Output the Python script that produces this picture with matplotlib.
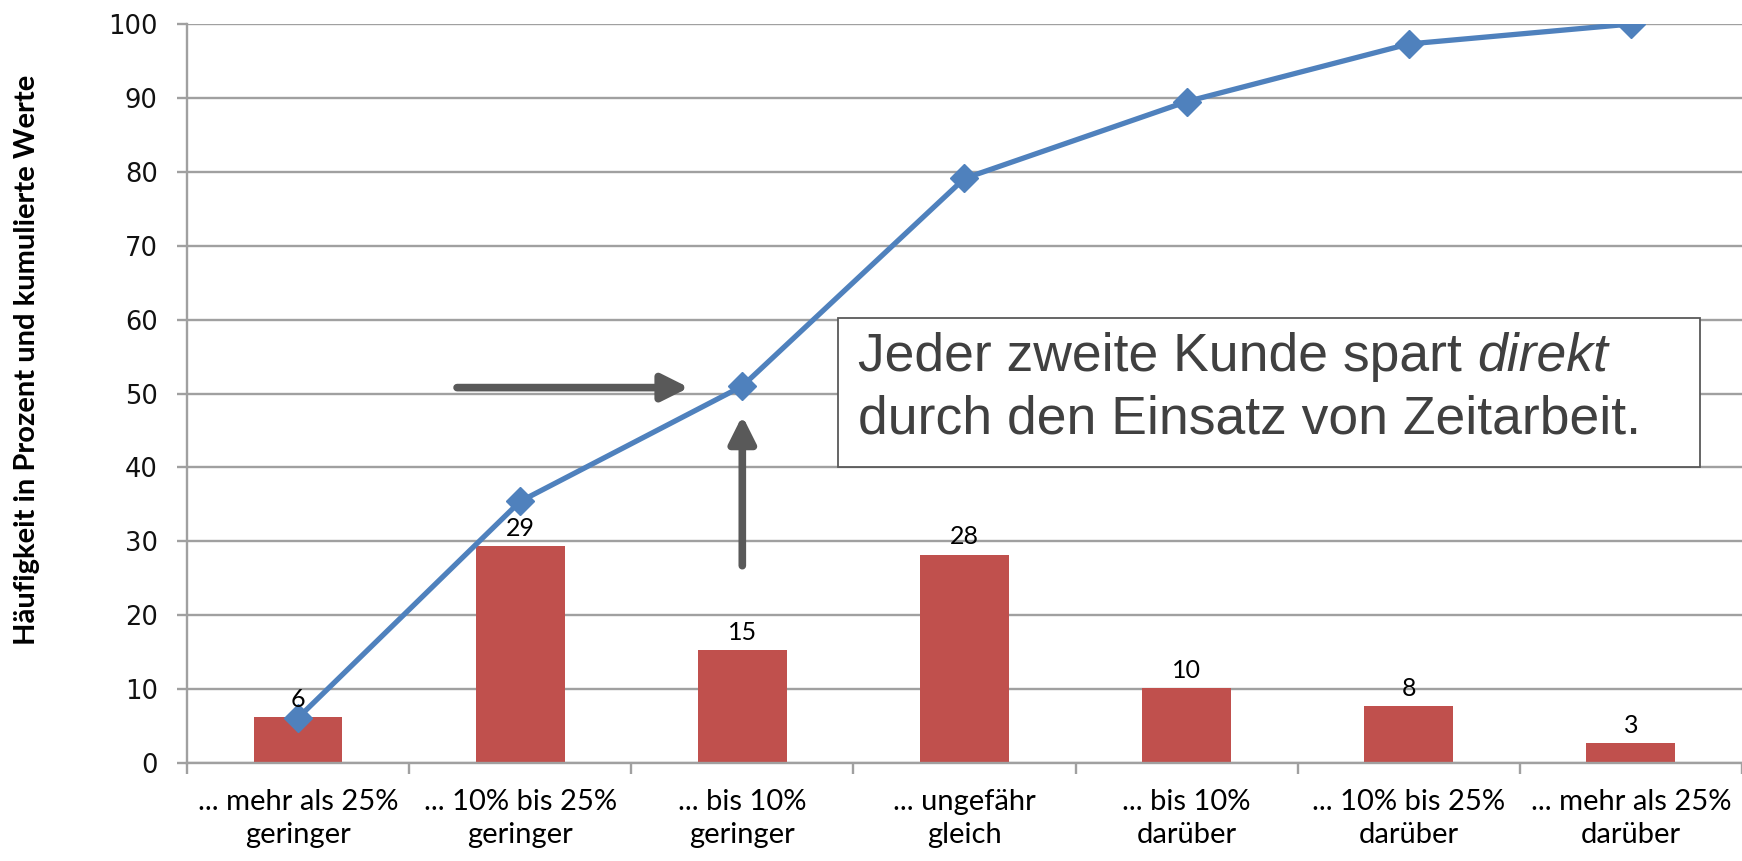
import matplotlib
matplotlib.use('Agg')
import matplotlib.pyplot as plt
from matplotlib.patches import Rectangle

# data
categories = ['... mehr als 25%\ngeringer', '... 10% bis 25%\ngeringer', '... bis 10%\ngeringer',
              '... ungefähr\ngleich', '... bis 10%\ndarüber', '... 10% bis 25%\ndarüber',
              '... mehr als 25%\ndarüber']
haeufigkeit = [6.2, 29.3, 15.3, 28.2, 10.1, 7.7, 2.7]
bar_labels = ['6', '29', '15', '28', '10', '8', '3']
kumuliert = [6.1, 35.4, 51.0, 79.1, 89.5, 97.3, 100.0]
y_ticks = [0, 10, 20, 30, 40, 50, 60, 70, 80, 90, 100]

bar_color = '#C0504D'
line_color = '#4F81BD'
grid_color = '#A0A0A0'
arrow_color = '#595959'

fig = plt.figure(figsize=(17.42, 8.61), dpi=100)
ax = fig.add_axes([0.1073, 0.1138, 0.8927, 0.8583])

x = list(range(len(categories)))

# gridlines
ax.set_yticks(y_ticks)
ax.yaxis.grid(True, color=grid_color, linewidth=1.7, zorder=0)
ax.set_axisbelow(True)

# bars
bars = ax.bar(x, haeufigkeit, width=0.4, color=bar_color, zorder=2)
for rect, lab in zip(bars, bar_labels):
    ax.annotate(lab, xy=(rect.get_x() + rect.get_width() / 2, rect.get_height()),
                xytext=(0, 4.5), textcoords='offset points', ha='center', va='bottom',
                fontsize=18, family='Lato', color='black', zorder=5)

# cumulative line
ax.plot(x, kumuliert, color=line_color, linewidth=3.8, marker='D', markersize=14,
        zorder=4)

# arrows
arrow_style = '-|>,head_length=1.6,head_width=0.8'
ax.annotate('', xy=(1.76, 50.8), xytext=(0.716, 50.8),
            arrowprops=dict(arrowstyle=arrow_style, color=arrow_color, lw=5.5,
                            shrinkA=0, shrinkB=0))
ax.annotate('', xy=(2.0, 47.0), xytext=(2.0, 26.7),
            arrowprops=dict(arrowstyle=arrow_style, color=arrow_color, lw=5.5,
                            shrinkA=0, shrinkB=0))

# text box
box = Rectangle((2.43, 40.1), 3.88, 20.1, facecolor='white', edgecolor='#595959',
                linewidth=1.3, zorder=6)
ax.add_patch(box)
t1 = ax.text(2.52, 53.1, 'Jeder zweite Kunde spart', fontsize=38.5,
             family='Liberation Sans', color='#404040', va='baseline', zorder=7)
ax.annotate('direkt', xy=(1, 0), xycoords=t1, xytext=(11, 0), textcoords='offset points',
            fontsize=38.5, family='Liberation Sans', style='italic', color='#404040',
            va='bottom', ha='left', zorder=7)
ax.text(2.52, 44.6, 'durch den Einsatz von Zeitarbeit.', fontsize=38.5,
        family='Liberation Sans', color='#404040', va='baseline', zorder=7)

# axes styling
ax.set_xlim(-0.5, 6.5)
ax.set_ylim(0, 100)
ax.set_xticks(x)
ax.set_xticklabels(categories, fontsize=21, family='Lato', linespacing=1.3)
ax.set_xticks([i - 0.5 for i in range(len(categories) + 1)], minor=True)
ax.tick_params(axis='x', which='major', length=0, pad=19)
ax.tick_params(axis='x', which='minor', length=8, width=1.7, color=grid_color, direction='out')
ax.tick_params(axis='y', length=7, width=1.7, color=grid_color, pad=14)
for lab in ax.get_yticklabels():
    lab.set_fontsize(18.5)
    lab.set_family('DejaVu Sans')
    lab.set_color('#111111')

for s in ['top', 'right']:
    ax.spines[s].set_visible(False)
ax.spines['left'].set_color(grid_color)
ax.spines['left'].set_linewidth(1.7)
ax.spines['bottom'].set_color(grid_color)
ax.spines['bottom'].set_linewidth(1.7)

fig.text(0.0155, 0.582, 'Häufigkeit in Prozent und kumulierte Werte', rotation=90,
         fontsize=21, family='Lato', fontweight='bold', ha='center', va='center')

fig.savefig('out.png', dpi=100)
